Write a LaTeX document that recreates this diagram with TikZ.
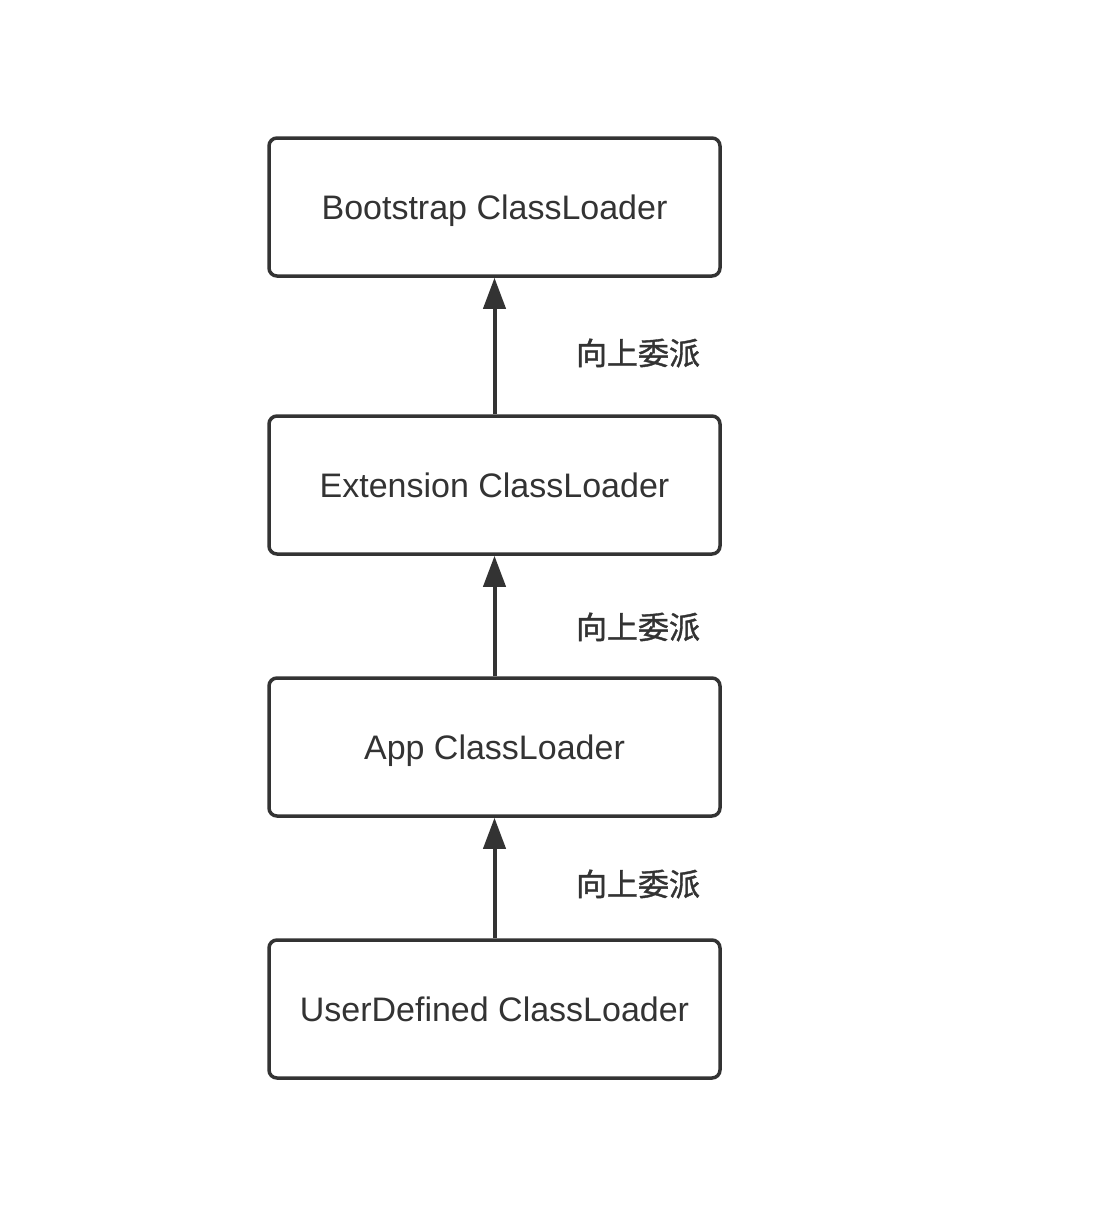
\documentclass[tikz,border=0pt]{standalone}
\usepackage{fontspec}
\setmainfont{Liberation Sans}
\newfontfamily\cjk[FakeBold=1.2]{Noto Sans CJK SC}
\usetikzlibrary{arrows.meta}
\definecolor{ink}{HTML}{333333}
\begin{document}
\begin{tikzpicture}[x=0.5pt,y=-0.5pt,
  loader/.style={draw=ink,line width=1.75pt,rounded corners=4pt,minimum width=225.5pt,minimum height=69pt,inner sep=0pt,text=ink,text height=12.2pt,text depth=0pt,font=\fontsize{17pt}{20pt}\selectfont},
  delegate/.style={text=ink,font=\cjk\fontsize{15.5pt}{18pt}\selectfont},
  up/.style={draw=ink,line width=2pt,-{Triangle[length=15.5pt,width=11pt]}}]
\useasboundingbox (0,0) rectangle (1098,1226);
\node[loader] (boot) at (494.5,207) {Bootstrap ClassLoader};
\node[loader] (ext) at (494.5,485) {Extension ClassLoader};
\node[loader] (app) at (494.5,747) {App ClassLoader};
\node[loader] (user) at (494.5,1009) {UserDefined ClassLoader};
\draw[up] (ext.north) -- (boot.south);
\draw[up] (app.north) -- (ext.south);
\draw[up] (user.north) -- (app.south);
\node[delegate] (l1) at (638,353) {向上委派};
\node[delegate] (l2) at (638,627) {向上委派};
\node[delegate] (l3) at (638,884) {向上委派};
\end{tikzpicture}
\end{document}
